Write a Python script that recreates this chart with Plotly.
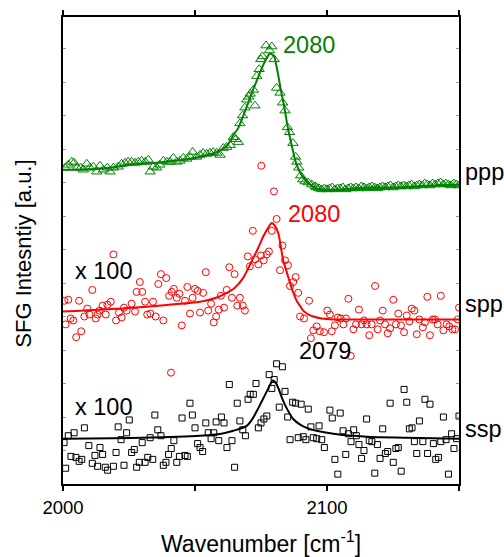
import plotly.graph_objects as go

# ---- ppp spectrum (green triangles) and its fit ----
ppp_x = [2000.8, 2002.0, 2003.3, 2004.2, 2005.4, 2006.7, 2007.7, 2009.0, 2010.2, 2011.5,
         2012.8, 2014.0, 2015.3, 2016.8, 2017.8, 2019.1, 2020.9, 2022.2, 2023.5, 2024.7,
         2026.0, 2027.3, 2028.5, 2029.8, 2031.1, 2032.3, 2033.0, 2034.2, 2035.5, 2036.7,
         2038.0, 2039.3, 2040.5, 2041.8, 2043.1, 2044.3, 2045.6, 2046.9, 2048.1, 2049.1,
         2050.6, 2051.9, 2053.1, 2054.4, 2055.7, 2056.9, 2058.2, 2059.5,
         2060.7, 2062.0, 2063.3, 2064.5, 2065.5, 2066.4, 2067.0, 2068.0, 2068.9, 2069.6,
         2070.4, 2070.9, 2072.1, 2072.7, 2073.4, 2074.3, 2074.9, 2075.5, 2076.9, 2078.2,
         2079.1, 2080.0, 2080.9, 2082.2, 2083.2, 2084.1, 2085.0, 2085.8, 2087.1, 2088.1,
         2088.6, 2089.3, 2090.0, 2090.8, 2091.7, 2092.9, 2094.2, 2095.5,
         2096, 2097, 2098, 2099, 2100, 2101, 2102, 2103, 2104, 2105, 2106, 2107, 2108, 2109,
         2110, 2111, 2112, 2113, 2114, 2115, 2116, 2117, 2118, 2119, 2120, 2121, 2122, 2123,
         2124, 2125, 2126, 2127, 2128, 2129, 2130, 2131, 2132, 2133, 2134, 2135, 2136, 2137,
         2138, 2139, 2140, 2141, 2142, 2143, 2144, 2145, 2146, 2147, 2148, 2149, 2150]
ppp_y = [321, 324, 327, 326, 321, 321, 319, 325, 321, 322,
         317, 323, 319, 321, 317, 321, 322, 325, 326, 327,
         327, 326, 327, 328, 327, 329, 317, 322, 321, 324,
         328, 327, 327, 331, 327, 328, 331, 330, 332, 337,
         332, 334, 336, 335, 336, 337, 336, 334,
         341, 342, 344, 352, 350, 347, 366, 374, 382, 390,
         393, 396, 400, 384, 414, 421, 431, 434, 445, 440,
         444, 431, 402, 397, 387, 379, 362, 357, 346, 332,
         327, 321, 313, 309, 307, 306, 304, 302,
         301, 300, 299, 300, 299, 300, 301, 299, 300, 300, 301, 299, 300, 301,
         300, 301, 300, 302, 301, 300, 301, 302, 301, 300, 301, 302, 301, 302,
         303, 301, 302, 303, 302, 303, 302, 303, 304, 302, 303, 304, 303, 305,
         304, 303, 305, 304, 305, 306, 304, 305, 304, 303, 305, 304, 303]

ppp_fit_x = [2000, 2014, 2026.5, 2039.3, 2051.9, 2058.2, 2062, 2064.5, 2066.5, 2068.3,
             2070.2, 2072.1, 2073.8, 2075.3, 2076.5, 2077.5, 2078.4, 2079.2, 2080, 2080.8,
             2081.6, 2082.5, 2083.5, 2084.3, 2085, 2086.6, 2088.5, 2091, 2093.6, 2096,
             2098.5, 2105, 2115, 2125, 2134, 2142, 2150]
ppp_fit_y = [319, 320, 324, 327, 332, 337, 343, 354, 362, 374,
             387, 401, 412, 422, 429, 434, 437, 436, 434, 425,
             414, 400, 387, 375, 364, 344, 324, 311, 304, 300,
             299, 299, 301, 301, 302, 303, 304]

# ---- spp spectrum (red circles, x100) and its fit ----
spp_x = [2000.5, 2001.0, 2002.0, 2002.9, 2003.9, 2005.0, 2006.1, 2006.9, 2008.1, 2009.2,
         2010.0, 2011.1, 2012.4, 2013.1, 2013.8, 2015.0, 2016.2, 2016.8, 2018.1, 2019.1,
         2020.1, 2021.2, 2022.2, 2023.1, 2024.1, 2026.0, 2027.3, 2027.9, 2029.1, 2030.0,
         2031.1, 2031.9, 2033.1, 2034.1, 2035.1, 2036.1, 2037.1, 2038.0, 2039.1, 2040.2,
         2040.9, 2041.2, 2042.0, 2043.1, 2044.1, 2045.0, 2046.2, 2047.1, 2048.1, 2049.1,
         2050.0, 2051.0, 2051.9, 2053.1, 2054.1, 2055.0, 2056.1, 2057.1, 2058.0, 2059.0,
         2059.8, 2061.0, 2062.0, 2063.0, 2064.0, 2065.0, 2066.0, 2067.0, 2068.1, 2068.9,
         2070.0, 2070.8, 2071.9, 2072.8, 2074.0, 2075.0, 2075.1, 2076.0, 2077.2, 2078.0,
         2079.1, 2079.9, 2080.9, 2082.2, 2083.1, 2084.1, 2085.2, 2086.0, 2087.2, 2088.1,
         2089.1, 2089.8, 2091.3, 2093.2, 2093.9, 2094.8, 2096.1, 2097.3, 2098.9, 2100.1,
         2101.1, 2101.8, 2103.0, 2104.1, 2105.2, 2106.2, 2107.2, 2108.1, 2109.0, 2110.0,
         2111.0, 2112.1, 2113.1, 2114.0, 2115.0, 2116.0, 2116.9, 2118.2, 2119.2, 2120.1,
         2121.1, 2122.0, 2123.0, 2123.9, 2125.1, 2126.1, 2127.0, 2128.0, 2129.2, 2130.2,
         2131.2, 2132.1, 2133.1, 2134.0, 2135.0, 2136.3, 2137.1, 2138.0, 2139.0, 2140.0,
         2140.9, 2141.9, 2143.1, 2144.1, 2145.3, 2146.3, 2147.5, 2148.5, 2149.5, 2150.0]
spp_y = [186, 162, 187, 168, 166, 149, 186, 155, 170, 178,
         172, 197, 168, 172, 176, 181, 172, 182, 185, 233,
         166, 174, 169, 179, 176, 183, 175, 195, 205, 195,
         185, 172, 173, 185, 170, 203, 213, 166, 209, 191,
         113, 195, 198, 189, 193, 161, 186, 200, 173, 189,
         198, 196, 174, 194, 215, 176, 183, 164, 170, 177,
         191, 179, 197, 220, 189, 213, 181, 189, 181, 176,
         231, 221, 257, 228, 223, 232, 323, 227, 233, 236,
         257, 297, 269, 217, 242, 227, 222, 201, 205, 210,
         194, 170, 168, 186, 148, 156, 160, 155, 154, 176,
         172, 155, 161, 169, 168, 162, 168, 188, 130, 157,
         162, 177, 162, 166, 162, 151, 162, 201, 157, 166,
         176, 162, 153, 158, 187, 162, 173, 161, 154, 171,
         165, 178, 176, 152, 167, 159, 164, 190, 151, 167,
         167, 162, 191, 156, 162, 160, 157, 157, 167, 179]

spp_fit_x = [2000, 2026.5, 2040, 2051.9, 2058, 2062, 2065, 2068.2, 2070, 2072,
             2074, 2075.8, 2077.7, 2079.1, 2080.3, 2081.6, 2082.5, 2083.4, 2085, 2086,
             2087, 2088.5, 2090, 2091, 2093, 2094.8, 2098, 2102.3, 2115, 2130, 2150]
spp_fit_y = [175, 179, 182, 185, 189, 194, 199, 209, 218, 229,
             240, 251, 260, 265, 262, 254, 241, 227, 213, 204,
             196, 186, 180, 176, 172, 170, 168, 167, 167, 167, 167]

# ---- ssp spectrum (black squares, x100) and its fit ----
ssp_x = [2000.4, 2001.0, 2002.0, 2003.0, 2004.2, 2004.9, 2006.1, 2007.1, 2008.1, 2009.8,
         2011.1, 2012.1, 2013.1, 2014.0, 2015.0, 2016.0, 2016.9, 2019.1, 2020.1, 2020.9,
         2022.0, 2023.1, 2024.1, 2025.1, 2026.0, 2027.0, 2027.9, 2028.9, 2030.0, 2031.1,
         2032.1, 2033.0, 2034.0, 2034.8, 2035.9, 2037.1, 2038.0, 2039.0, 2040.0, 2041.0,
         2042.0, 2043.1, 2044.1, 2045.1, 2046.2, 2047.1, 2048.1, 2049.0, 2050.0, 2051.0,
         2051.9, 2052.9, 2054.1, 2055.0, 2056.1, 2057.1, 2058.0, 2059.0, 2060.0, 2061.0,
         2062.1, 2063.0, 2064.0, 2065.0, 2066.0, 2067.0, 2068.1, 2069.1, 2070.1, 2070.9,
         2072.1, 2073.1, 2074.0, 2075.0, 2076.1, 2077.2, 2078.1, 2079.1, 2080.0, 2080.9,
         2081.9, 2083.1, 2084.1, 2085.1, 2086.0, 2087.0, 2088.1, 2089.1, 2090.2, 2091.0,
         2092.0, 2092.9, 2093.9, 2094.8, 2096.1, 2097.0, 2098.0, 2099.0, 2101.1, 2102.0,
         2103.0, 2104.1, 2105.0, 2106.1, 2107.1, 2108.1, 2109.1, 2110.1, 2111.1, 2112.1,
         2113.1, 2114.0, 2115.0, 2116.0, 2117.0, 2118.1, 2119.1, 2120.1, 2121.1, 2122.1,
         2123.0, 2123.9, 2125.1, 2126.1, 2127.0, 2128.1, 2129.2, 2130.2, 2131.2, 2132.2,
         2133.1, 2134.0, 2135.0, 2136.3, 2137.1, 2138.1, 2139.0, 2140.3, 2141.2, 2142.2,
         2143.1, 2144.1, 2145.1, 2146.0, 2147.2, 2148.1, 2149.1, 2150.0]
ssp_y = [42, 16, 49, 28, 52, 27, 23, 25, 57, 39,
         21, 29, 18, 37, 30, 17, 14, 18, 32, 58,
         45, 19, 52, 65, 32, 35, 17, 22, 42, 22,
         27, 47, 25, 70, 55, 49, 19, 22, 30, 36,
         44, 22, 28, 67, 29, 28, 82, 70, 57, 41,
         37, 33, 62, 52, 46, 52, 63, 44, 68, 62,
         37, 101, 44, 17, 82, 64, 55, 49, 86, 91,
         91, 102, 57, 62, 66, 69, 111, 97, 106, 122,
         78, 119, 94, 68, 45, 83, 82, 47, 81, 48,
         45, 76, 58, 47, 46, 59, 45, 37, 75, 67,
         25, 10, 72, 54, 30, 51, 43, 55, 49, 40,
         26, 34, 66, 44, 43, 11, 40, 26, 56, 31,
         33, 82, 22, 36, 37, 13, 96, 83, 56, 57,
         43, 31, 64, 43, 86, 31, 81, 41, 25, 27,
         43, 68, 45, 10, 51, 36, 46, 69]

ssp_fit_x = [2000, 2030, 2051.9, 2060, 2064.5, 2069.6, 2071.5, 2073.4, 2075.5, 2077.2,
             2078.5, 2079.4, 2080.5, 2081.6, 2083, 2084.7, 2087.2, 2090, 2092.3, 2096,
             2102.4, 2115, 2130, 2150]
ssp_fit_y = [46, 47, 49, 51, 54, 59, 65, 74, 85, 94,
             101, 105, 103, 97, 87, 77, 66, 60, 57, 54,
             51, 48, 47, 46]

for a, b in [(ppp_x, ppp_y), (ppp_fit_x, ppp_fit_y), (spp_x, spp_y),
             (spp_fit_x, spp_fit_y), (ssp_x, ssp_y), (ssp_fit_x, ssp_fit_y)]:
    assert len(a) == len(b), (len(a), len(b))

tick_vals = [2000, 2050, 2100, 2150]
tick_text = ["2000", "", "2100", ""]

GREEN = "#008000"
RED = "#ff0000"
BLACK = "#000000"
FONT = "Arial, 'Liberation Sans', sans-serif"
LABEL_SIZE = 23.5

fig = go.Figure()

fig.add_trace(go.Scatter(x=ssp_x, y=ssp_y, mode="markers",
                         marker=dict(symbol="square-open", size=6, color=BLACK,
                                     line=dict(width=1))))
fig.add_trace(go.Scatter(x=ssp_fit_x, y=ssp_fit_y, mode="lines",
                         line=dict(color=BLACK, width=2, shape="spline", smoothing=0.8)))

fig.add_trace(go.Scatter(x=spp_x, y=spp_y, mode="markers",
                         marker=dict(symbol="circle-open", size=7, color=RED,
                                     line=dict(width=1))))
fig.add_trace(go.Scatter(x=spp_fit_x, y=spp_fit_y, mode="lines",
                         line=dict(color=RED, width=2, shape="spline", smoothing=0.8)))

fig.add_trace(go.Scatter(x=ppp_x, y=ppp_y, mode="markers",
                         marker=dict(symbol="triangle-up-open", size=9, color=GREEN,
                                     line=dict(width=1))))
fig.add_trace(go.Scatter(x=ppp_fit_x, y=ppp_fit_y, mode="lines",
                         line=dict(color=GREEN, width=2, shape="spline", smoothing=0.8)))

annotations = [
    dict(text="2080", x=2082.5, y=446, xanchor="left", yanchor="middle",
         font=dict(color=GREEN, size=LABEL_SIZE)),
    dict(text="2080", x=2084.4, y=274, xanchor="left", yanchor="middle",
         font=dict(color=RED, size=LABEL_SIZE)),
    dict(text="2079", x=2088.6, y=135, xanchor="left", yanchor="middle",
         font=dict(color=BLACK, size=LABEL_SIZE)),
    dict(text="x 100", x=2003.6, y=216, xanchor="left", yanchor="middle",
         font=dict(color=BLACK, size=LABEL_SIZE)),
    dict(text="x 100", x=2003.6, y=78, xanchor="left", yanchor="middle",
         font=dict(color=BLACK, size=LABEL_SIZE)),
]
for a in annotations:
    a.update(xref="x", yref="y", showarrow=False)

side_labels = [("ppp", 317), ("spp", 183), ("ssp", 56)]
for name, yv in side_labels:
    annotations.append(dict(text=name, xref="paper", yref="y", x=1.011, y=yv,
                            xanchor="left", yanchor="middle", showarrow=False,
                            font=dict(color=BLACK, size=LABEL_SIZE)))

annotations.append(dict(text="Wavenumber [cm<sup>-1</sup>]", xref="paper", yref="paper",
                        x=0.5, y=-0.125, xanchor="center", yanchor="middle",
                        showarrow=False, font=dict(size=23, color=BLACK)))
annotations.append(dict(text="SFG Intesntiy [a.u.]", xref="paper", yref="paper",
                        x=-0.1, y=0.494, xanchor="center", yanchor="middle",
                        textangle=-90, showarrow=False, font=dict(size=22, color=BLACK)))

fig.update_layout(
    width=504, height=557,
    margin=dict(l=63, r=45, t=10, b=73),
    plot_bgcolor="white", paper_bgcolor="white",
    showlegend=False,
    font=dict(family=FONT, size=22, color=BLACK),
    annotations=annotations,
    xaxis=dict(range=[2000, 2150], tickvals=tick_vals, ticktext=tick_text,
               ticks="outside", ticklen=5, tickwidth=1.5, tickcolor=BLACK,
               ticklabelstandoff=1,
               showline=True, linecolor=BLACK, linewidth=1.5, mirror="ticks",
               showgrid=False, zeroline=False, tickfont=dict(size=18.5)),
    yaxis=dict(range=[0, 474], tick0=0, dtick=34, ticks="inside", ticklen=3,
               tickwidth=1, tickcolor="#999999", showticklabels=False,
               showline=True, linecolor=BLACK, linewidth=1.5, mirror="ticks",
               showgrid=False, zeroline=False),
)

fig.write_html("out.html")
